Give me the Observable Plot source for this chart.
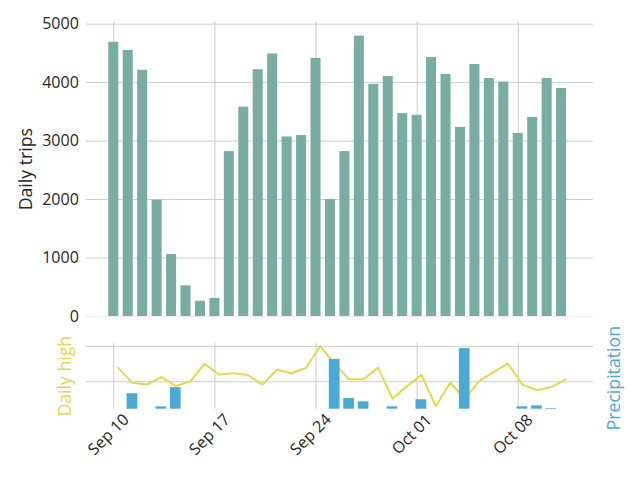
<!DOCTYPE html>
<html>
<head>
<meta charset="utf-8">
<script src="https://cdn.jsdelivr.net/npm/d3@7"></script>
<script src="https://cdn.jsdelivr.net/npm/@observablehq/plot@0.6"></script>
<style>
  body { margin: 0; background: white; }
  #wrap { position: relative; width: 640px; height: 480px; }
  #wrap svg { position: absolute; left: 0; top: 0; }
</style>
</head>
<body>
<div id="wrap"></div>
<script>
// ---- data ----
const tripDates = [
  "2018-09-10","2018-09-11","2018-09-12","2018-09-13","2018-09-14","2018-09-15","2018-09-16","2018-09-17",
  "2018-09-18","2018-09-19","2018-09-20","2018-09-21","2018-09-22","2018-09-23","2018-09-24","2018-09-25",
  "2018-09-26","2018-09-27","2018-09-28","2018-09-29","2018-09-30","2018-10-01","2018-10-02","2018-10-03",
  "2018-10-04","2018-10-05","2018-10-06","2018-10-07","2018-10-08","2018-10-09","2018-10-10","2018-10-11"
];
const dailyTrips = [
  4690, 4550, 4210, 1990, 1060, 525, 260, 310,
  2820, 3580, 4220, 4490, 3070, 3095, 4415, 2000,
  2820, 4795, 3970, 4105, 3470, 3440, 4430, 4140,
  3235, 4310, 4070, 4010, 3130, 3405, 4070, 3900
];
// weather readings are stamped at 07:00 UTC (local midnight)
const weatherTimes = tripDates.map(d => d + "T07:00Z");
const dailyHigh = [
  64.0, 59.7, 59.2, 61.3, 58.8, 60.1, 65.1, 62.0,
  62.4, 61.9, 59.2, 63.4, 62.4, 63.9, 70.1, 65.0,
  60.7, 60.7, 64.0, 55.3, 58.7, 62.0, 53.1, 59.8,
  55.2, 60.2, 62.7, 65.1, 59.2, 57.6, 58.5, 60.7
];
const precipitation = [
  0, 0.23, 0, 0.035, 0.32, 0, 0, 0,
  0, 0, 0, 0, 0, 0, 0, 0.74,
  0.16, 0.11, 0, 0.035, 0, 0.14, 0, 0,
  0.90, 0, 0, 0, 0.035, 0.05, 0.01, 0
];
const tickDates = ["2018-09-10","2018-09-17","2018-09-24","2018-10-01","2018-10-08"];
const tripTicks = [0, 1000, 2000, 3000, 4000, 5000];
const highGrid = [60, 70];

// ---- tables ----
const trips = tripDates.map((d, i) => ({date: new Date(d), trips: dailyTrips[i]}));
const weather = weatherTimes.map((d, i) => ({date: new Date(d), high: dailyHigh[i], precip: precipitation[i]}));
const ticks = tickDates.map(d => new Date(d));

// ---- styling ----
const FONT = "Open Sans";
const INK = "#262626";
const GRID = "#cccccc";
const TEAL = "#78ada3";
const BLUE = "#4ba9d6";
const YELLOW = "#e3d84a";
const TICK_SIZE = 16;
const LABEL_SIZE = 17.7;
const xDomain = [new Date("2018-09-08T02:40Z"), new Date("2018-10-13T05:00Z")];
const style = {fontFamily: FONT, background: "transparent", color: INK, overflow: "visible"};
const shift = m => d => d3.utcMinute.offset(d, m);

const wrap = document.getElementById("wrap");

// top panel: daily trips
const topPanel = Plot.plot({
  width: 640, height: 480,
  marginTop: 21.3, marginBottom: 164, marginLeft: 86, marginRight: 47,
  style,
  x: {type: "utc", domain: xDomain, axis: null},
  y: {domain: [0, 5040]},
  marks: [
    Plot.gridY(tripTicks.filter(t => t > 0), {stroke: GRID, strokeOpacity: 1, strokeWidth: 1}),
    Plot.gridY([0], {stroke: "#ececec", strokeOpacity: 1}),
    Plot.gridX(ticks, {stroke: GRID, strokeOpacity: 1, strokeWidth: 1}),
    Plot.rectY(trips, {
      x1: d => shift(-500)(d.date), x2: d => shift(500)(d.date),
      y: "trips", fill: TEAL
    }),
    Plot.axisY(tripTicks, {tickSize: 0, tickPadding: 7.7, tickFormat: "d", fontSize: TICK_SIZE, fill: INK, label: null}),
    Plot.text(["Daily trips"], {frameAnchor: "left", textAnchor: "middle", dx: -60.5, rotate: -90, fontSize: LABEL_SIZE, fill: INK})
  ]
});
wrap.appendChild(topPanel);

// bottom panel: daily high line (left axis)
const bottomLine = Plot.plot({
  width: 640, height: 480,
  marginTop: 342.7, marginBottom: 71.3, marginLeft: 86, marginRight: 47,
  style,
  x: {type: "utc", domain: xDomain, axis: null},
  y: {domain: [52.25, 70.9], axis: null},
  marks: [
    Plot.gridY(highGrid, {stroke: GRID, strokeOpacity: 1, strokeWidth: 1}),
    Plot.gridX(ticks, {stroke: GRID, strokeOpacity: 1, strokeWidth: 1}),
    Plot.line(weather, {x: "date", y: "high", stroke: YELLOW, strokeWidth: 2}),
    Plot.text(ticks, {
      x: d => d, text: d => d3.utcFormat("%b %d")(d),
      frameAnchor: "bottom", dy: 29, dx: -1.5, rotate: -45, textAnchor: "middle",
      fontSize: TICK_SIZE, fill: INK
    }),
    Plot.text(["Daily high"], {frameAnchor: "left", textAnchor: "middle", dx: -21.5, rotate: -90, fontSize: LABEL_SIZE, fill: YELLOW})
  ]
});
wrap.appendChild(bottomLine);

// bottom panel: precipitation bars (right axis, drawn on top)
const bottomBars = Plot.plot({
  width: 640, height: 480,
  marginTop: 342.7, marginBottom: 71.3, marginLeft: 86, marginRight: 47,
  style,
  x: {type: "utc", domain: xDomain, axis: null},
  y: {domain: [0, 0.98], axis: null},
  marks: [
    Plot.rectY(weather.filter(d => d.precip > 0), {
      x1: d => shift(-535)(d.date), x2: d => shift(535)(d.date),
      y: "precip", fill: BLUE
    }),
    Plot.text(["Precipitation"], {frameAnchor: "right", textAnchor: "middle", dx: 20.5, dy: 2, rotate: -90, fontSize: LABEL_SIZE, fill: BLUE})
  ]
});
wrap.appendChild(bottomBars);
</script>
</body>
</html>
